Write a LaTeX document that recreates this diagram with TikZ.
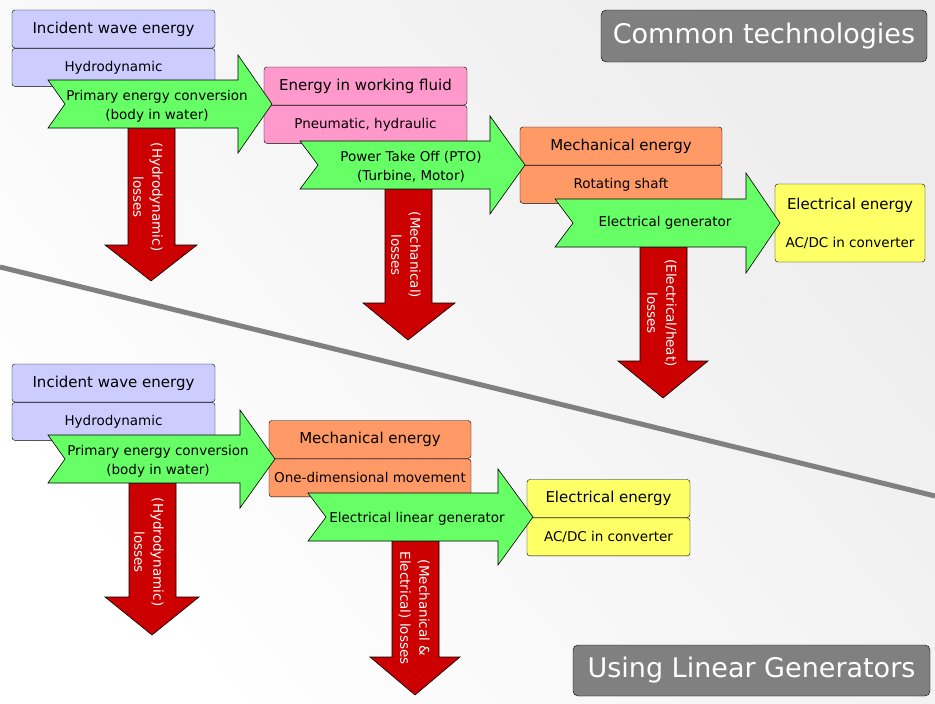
\documentclass[tikz,border=0pt]{standalone}
\usepackage{fontspec}
\setmainfont{DejaVu Sans}
\usepackage{tikz}
\usetikzlibrary{positioning}

\definecolor{lav}{HTML}{CCCCFF}
\definecolor{pinkfill}{HTML}{FF99CC}
\definecolor{orangefill}{HTML}{FF9966}
\definecolor{yellowfill}{HTML}{FFFF66}
\definecolor{flowgreen}{HTML}{66FF66}
\definecolor{lossred}{HTML}{CC0000}
\definecolor{labelgray}{HTML}{808080}

\newcommand{\headfont}{\fontsize{15}{18}\selectfont}
\newcommand{\subfont}{\fontsize{13.5}{19}\selectfont}
\newcommand{\titlefont}{\fontsize{27}{30}\selectfont}

\begin{document}
\begin{tikzpicture}[x=1pt, y=-1pt,
    stage/.style={draw=black, rounded corners=3pt, inner sep=0pt, minimum height=38pt, font=\subfont},
    head/.style={stage, font=\headfont},
    flow/.style={draw=black, fill=flowgreen, line width=0.6pt},
    loss/.style={draw=black, fill=lossred, line width=0.6pt},
    flowtext/.style={align=center, font=\subfont, inner sep=0pt},
    losstext/.style={align=center, font=\subfont, text=white, rotate=-90, inner sep=0pt},
    tag/.style={draw=black, fill=labelgray, rounded corners=5pt, text=white, font=\titlefont, inner sep=0pt}]
    \useasboundingbox (0,0) rectangle (935,704);
    % background and separator
    \shade[top color=gray!14, middle color=gray!32, bottom color=white, shading angle=-50] (0,0) rectangle (935,704);
    \draw[labelgray, line width=5pt] (0,267) -- (935,496);

    % common technologies
    \node[head, fill=lav, minimum width=203pt] (inc1) at (113.5,29) {Incident wave energy};
    \node[stage, fill=lav, minimum width=203pt, below=0pt of inc1] (hyd1) {Hydrodynamic};
    \node[head, fill=pinkfill, minimum width=203pt] (fluid) at (365.5,86) {Energy in working fluid};
    \node[stage, fill=pinkfill, minimum width=203pt, below=0pt of fluid] (pneu) {Pneumatic, hydraulic};
    \node[head, fill=orangefill, minimum width=202pt] (mech1) at (621,146) {Mechanical energy};
    \node[stage, fill=orangefill, minimum width=202pt, below=0pt of mech1] (shaft) {Rotating shaft};
    \node[stage, fill=yellowfill, minimum width=150pt, minimum height=78pt, align=center] (elec1) at (850,223)
        {{\headfont Electrical energy}\\[19pt]AC/DC in converter};

    \draw[loss] (128,128) -- (175,128) -- (175,245) -- (197,245) -- (151,281) -- (105,245) -- (128,245) -- cycle;
    \draw[loss] (385,189) -- (432,189) -- (432,303) -- (455,303) -- (408,340) -- (363,303) -- (385,303) -- cycle;
    \draw[loss] (640,247) -- (687,247) -- (687,361) -- (708,361) -- (663,398) -- (618,361) -- (640,361) -- cycle;

    \draw[flow] (48,80) -- (238,80) -- (238,55) -- (272,104) -- (238,153) -- (238,128) -- (48,128) -- (65,104) -- cycle;
    \draw[flow] (300,141) -- (490,141) -- (490,116) -- (525,165) -- (490,214) -- (490,189) -- (300,189) -- (318,165) -- cycle;
    \draw[flow] (555,199) -- (746,199) -- (746,173) -- (780,223) -- (746,273) -- (746,247) -- (555,247) -- (573,223) -- cycle;

    \node[flowtext] (conv1) at (157,106) {Primary energy conversion\\(body in water)};
    \node[flowtext] (pto) at (411,167) {Power Take Off (PTO)\\(Turbine, Motor)};
    \node[flowtext] (gen1) at (665,223) {Electrical generator};
    \node[losstext] (hloss1) at (148,197) {(Hydrodynamic)\\losses};
    \node[losstext] (mloss1) at (406,255) {(Mechanical)\\losses};
    \node[losstext] (eloss1) at (662,313) {(Electrical/heat)\\losses};

    % linear generators
    \node[head, fill=lav, minimum width=203pt] (inc2) at (113.5,383) {Incident wave energy};
    \node[stage, fill=lav, minimum width=203pt, below=0pt of inc2] (hyd2) {Hydrodynamic};
    \node[head, fill=orangefill, minimum width=202pt] (mech2) at (370,439.5) {Mechanical energy};
    \node[stage, fill=orangefill, minimum width=202pt, below=0pt of mech2] (move2) {One-dimensional movement};
    \node[head, fill=yellowfill, minimum width=163pt] (elec2) at (608.5,498.5) {Electrical energy};
    \node[stage, fill=yellowfill, minimum width=163pt, below=0pt of elec2] (acdc2) {AC/DC in converter};

    \draw[loss] (129,483) -- (176,483) -- (176,597) -- (199,597) -- (152,635) -- (105,597) -- (129,597) -- cycle;
    \draw[loss] (392,541) -- (439,541) -- (439,657) -- (460,657) -- (415,695) -- (370,657) -- (392,657) -- cycle;

    \draw[flow] (48,435) -- (240,435) -- (240,410) -- (275,459) -- (240,508) -- (240,483) -- (48,483) -- (65,459) -- cycle;
    \draw[flow] (308,493) -- (498,493) -- (498,469) -- (533,517) -- (498,565) -- (498,541) -- (308,541) -- (326,517) -- cycle;

    \node[flowtext] (conv2) at (158,461) {Primary energy conversion\\(body in water)};
    \node[flowtext] (gen2) at (417,519) {Electrical linear generator};
    \node[losstext] (hloss2) at (149,552) {(Hydrodynamic)\\losses};
    \node[losstext] (mloss2) at (414,608) {(Mechanical \&\\Electrical) losses};

    % section tags
    \node[tag, minimum width=326pt, minimum height=52pt] (common) at (764,36) {Common technologies};
    \node[tag, minimum width=357pt, minimum height=51pt] (linear) at (751.5,670.5) {Using Linear Generators};
\end{tikzpicture}
\end{document}
